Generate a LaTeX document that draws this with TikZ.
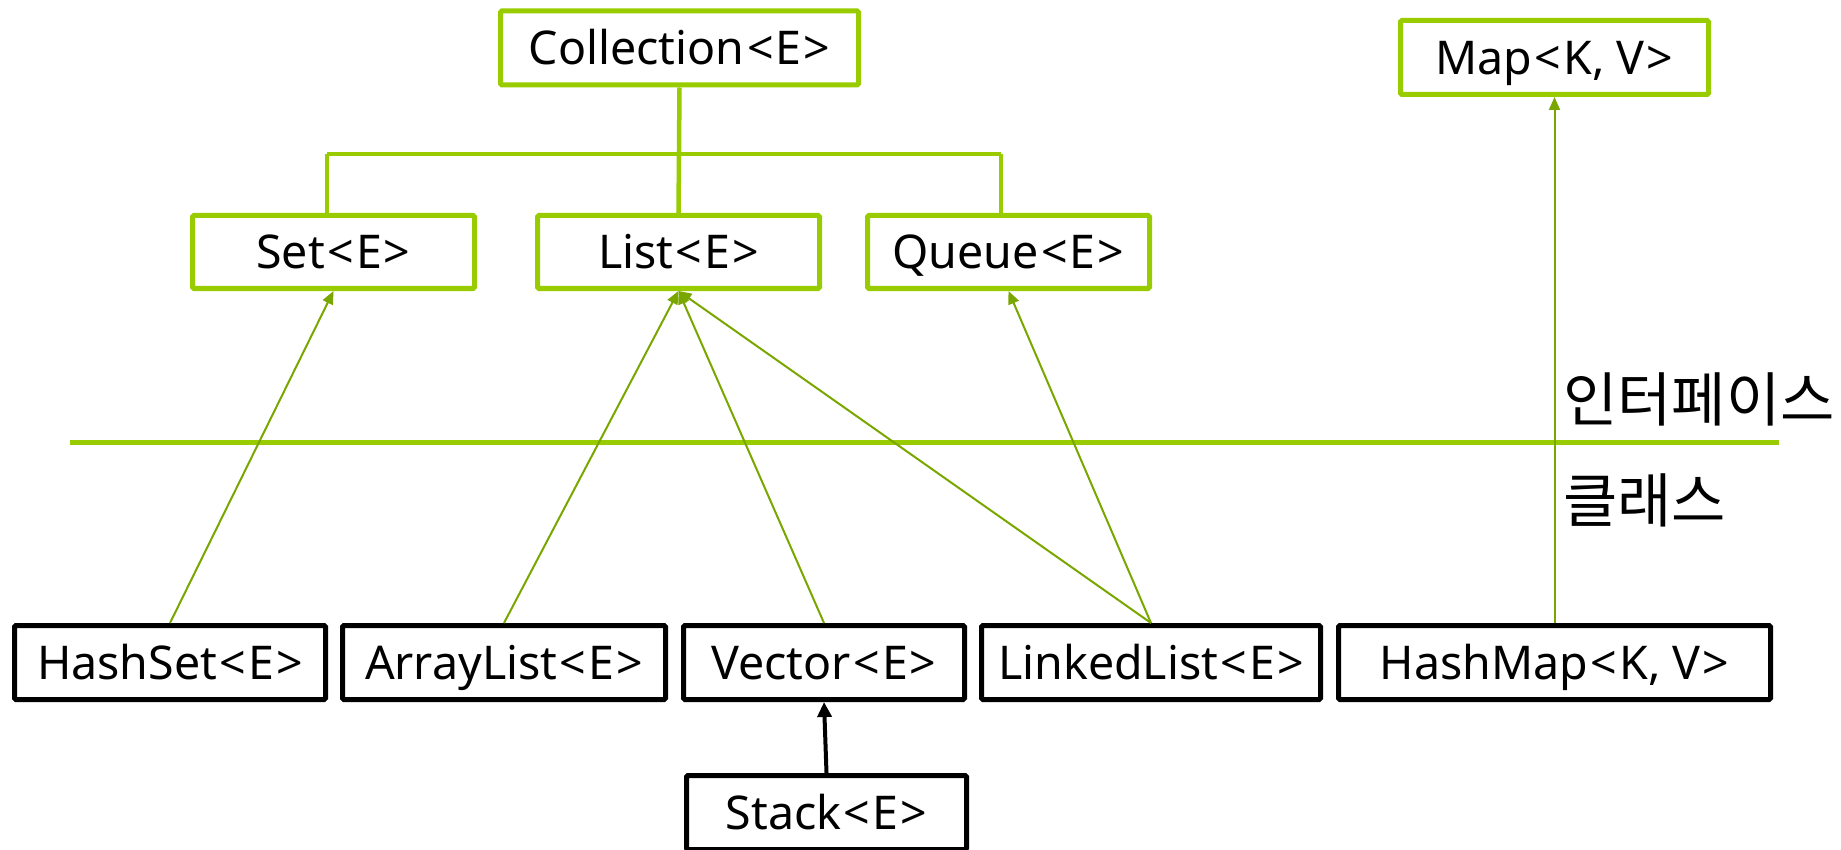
\documentclass[tikz,border=0pt]{standalone}
\usepackage{fontspec}
\setmainfont{Noto Sans}
\newfontfamily\krfont{Noto Sans CJK KR}
\usetikzlibrary{arrows.meta}
\definecolor{boxgreen}{RGB}{153,204,0}
\definecolor{arrgreen}{RGB}{122,166,0}
\newcommand{\lt}{\kern2.5pt<\kern2pt}
\newcommand{\gt}{\kern2pt>}
\tikzset{
  lbl/.style={font=\fontsize{46.5}{56}\selectfont, text height=33.2pt, text depth=0pt, inner sep=0pt, align=center},
  ibox/.style={lbl, draw=boxgreen, line width=5pt, rounded corners=1.5pt, fill=white},
  cbox/.style={lbl, draw=black, line width=5pt, rounded corners=1.5pt, fill=white},
  bus/.style={draw=boxgreen, line width=4.5pt},
  impl/.style={draw=arrgreen, line width=2pt, -{Triangle[length=13pt,width=11pt]}},
  ext/.style={draw=black, line width=4pt, -{Triangle[length=15pt,width=14pt]}},
  kr/.style={font=\krfont\fontsize{59}{66}\selectfont, inner sep=0pt, anchor=base west}
}
\begin{document}
\begin{tikzpicture}[x=1pt,y=-1pt]
\useasboundingbox (0,0) rectangle (1841,850);
% interfaces
\node[ibox, minimum width=358pt, minimum height=74pt] (coll) at (679.5,48) {Collection\lt E\gt};
\node[ibox, minimum width=308pt, minimum height=74pt] (map) at (1554.5,57.5) {Map\lt K, V\gt};
\node[ibox, minimum width=282pt, minimum height=73pt] (set) at (333.5,252) {Set\lt E\gt};
\node[ibox, minimum width=282pt, minimum height=73pt] (list) at (678.5,252) {List\lt E\gt};
\node[ibox, minimum width=282pt, minimum height=73pt] (queue) at (1008.5,252) {Queue\lt E\gt};
% classes
\node[cbox, minimum width=311pt, minimum height=74pt] (hashset) at (170,662.5) {HashSet\lt E\gt};
\node[cbox, minimum width=323pt, minimum height=74pt] (arraylist) at (504,662.5) {ArrayList\lt E\gt};
\node[cbox, minimum width=281pt, minimum height=74pt] (vector) at (824,662.5) {Vector\lt E\gt};
\node[cbox, minimum width=339pt, minimum height=74pt] (linkedlist) at (1151,662.5) {LinkedList\lt E\gt};
\node[cbox, minimum width=432pt, minimum height=74pt] (hashmap) at (1554.5,662.5) {HashMap\lt K, V\gt};
\node[cbox, minimum width=280pt, minimum height=74pt] (stack) at (826.5,812.5) {Stack\lt E\gt};
% hierarchy bus
\coordinate (busL) at (327,154);
\coordinate (busR) at (1001,154);
\draw[bus] (busL) -- (busR);
\draw[bus] (busL) -- (busL |- set.north);
\draw[bus] (busR) -- (busR |- queue.north);
\draw[bus] (coll.south) -- (list.north);
% separator
\coordinate (sepL) at (70,442);
\coordinate (sepR) at (1779,442);
\draw[draw=boxgreen, line width=5pt] (sepL) -- (sepR);
\node[kr] (iface) at (1563,421) {인터페이스};
\node[kr] (cls) at (1563,522) {클래스};
% implementation arrows
\draw[impl] (hashset.north) -- (set.south);
\draw[impl] (arraylist.north) -- (list.south);
\draw[impl] (vector.north) -- (list.south);
\draw[impl] (linkedlist.north) -- (list.south);
\draw[impl] (linkedlist.north) -- (queue.south);
\draw[impl] (hashmap.north) -- (map.south);
\draw[ext] (stack.north) -- (vector.south);
\end{tikzpicture}
\end{document}
